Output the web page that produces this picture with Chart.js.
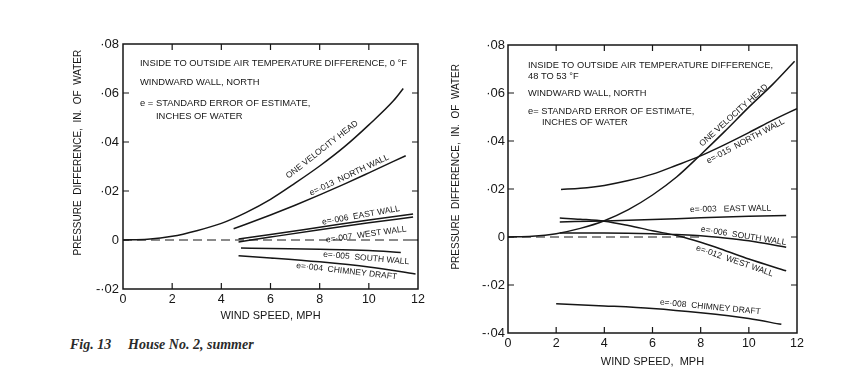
<!DOCTYPE html>
<html>
<head>
<meta charset="utf-8">
<script src="https://cdn.jsdelivr.net/npm/chart.js@4.4.1/dist/chart.umd.min.js"></script>
<style>
  body { margin: 0; background: #fff; width: 842px; height: 369px; position: relative; overflow: hidden; }
  #leftChart { position: absolute; left: 0; top: 0; }
  #rightChart { position: absolute; left: 440px; top: 0; }
  .cap { position: absolute; top: 337px; font: italic bold 14px "Liberation Serif", "DejaVu Serif", serif; color: #2a2a2a; white-space: nowrap; }
</style>
</head>
<body>
<canvas id="leftChart" width="440" height="330"></canvas>
<canvas id="rightChart" width="402" height="369"></canvas>
<div class="cap" style="left:70px">Fig. 13</div>
<div class="cap" style="left:128px">House No. 2, summer</div>

<script>
// ---- left chart: house no. 2, summer, 0 °F difference ----
var zeroSpeedL = [0, 12];
var zeroL = [0, 0];
var headSpeedL = [0, 1, 2, 3, 4, 5, 6, 7, 8, 9, 10, 11, 11.4];
var headL = [0, 0.0003, 0.0015, 0.0038, 0.0068, 0.0112, 0.0166, 0.0232, 0.0302, 0.0380, 0.0470, 0.0568, 0.0618];
var northSpeedL = [4.5, 5, 6, 7, 8, 9, 10, 11.5];
var northL = [0.0046, 0.0064, 0.0102, 0.0142, 0.0184, 0.0228, 0.0274, 0.0344];
var eastSpeedL = [4.7, 6, 8, 10, 11.8];
var eastL = [0.0004, 0.0022, 0.0052, 0.0082, 0.0106];
var westSpeedL = [4.7, 6, 8, 10, 11.8];
var westL = [-0.0008, 0.0012, 0.0042, 0.0070, 0.0094];
var southSpeedL = [4.8, 6, 8, 10, 11.3];
var southL = [-0.0033, -0.0035, -0.0038, -0.0043, -0.0051];
var chimneySpeedL = [4.7, 6, 8, 10, 11.9];
var chimneyL = [-0.0064, -0.0073, -0.0089, -0.0110, -0.0139];

// ---- right chart: 48 to 53 °F difference ----
var zeroSpeedR = [0, 8];
var zeroR = [0, 0];
var headSpeedR = [0, 1, 2, 3, 4, 5, 6, 7, 8, 9, 10, 11, 11.9];
var headR = [0, 0.0003, 0.0014, 0.0036, 0.0068, 0.0114, 0.0175, 0.0250, 0.0343, 0.0440, 0.0541, 0.0637, 0.0732];
var northSpeedR = [2.2, 3, 4, 5, 6, 7, 7.9, 9, 10, 11, 12];
var northR = [0.0198, 0.0203, 0.0215, 0.0235, 0.0262, 0.0299, 0.0334, 0.0385, 0.0435, 0.0487, 0.0535];
var eastSpeedR = [2.15, 4, 6, 8, 10, 11.55];
var eastR = [0.0063, 0.0067, 0.0073, 0.0080, 0.0086, 0.0090];
var westSpeedR = [2.15, 3, 4, 5, 6, 7, 8, 9, 10, 11.55];
var westR = [0.0079, 0.0074, 0.0066, 0.0048, 0.0026, 0.0006, -0.0022, -0.0056, -0.0092, -0.0141];
var southSpeedR = [2.15, 4, 6, 7, 8, 9, 10, 11.55];
var southR = [0.0017, 0.0017, 0.0014, 0.0010, 0.0005, -0.0004, -0.0016, -0.0043];
var chimneySpeedR = [2, 4, 6, 8, 10, 11.35];
var chimneyR = [-0.0278, -0.0287, -0.0298, -0.0316, -0.0340, -0.0364];

var yTicksL = [-0.02, 0.08];
var yTicksR = [-0.04, 0.08];
var xTicks = [0, 12];

var INK = '#161616';
var SANS = '"Liberation Sans", Arial, sans-serif';
var Y_TITLE = 'PRESSURE  DIFFERENCE,  IN.  OF  WATER';

function pts(xs, ys) {
    return xs.map(function (x, i) { return { x: x, y: ys[i] }; });
}

function curve(xs, ys) {
    return {
        data: pts(xs, ys),
        borderColor: INK,
        borderWidth: 1.5,
        pointRadius: 0,
        fill: false,
        cubicInterpolationMode: 'monotone'
    };
}

function dashed(xs, ys) {
    var d = curve(xs, ys);
    d.borderWidth = 1;
    d.borderDash = [9, 5];
    return d;
}

// tick text like ·08 and -·02
function fmt(v) {
    var n = Math.round(Math.abs(v) * 100);
    if (n === 0) return '0';
    return (v < 0 ? '-' : '') + '\u00b7' + (n < 10 ? '0' : '') + n;
}

// leading no-break spaces push the rotated title up the axis
function lift(text, n) {
    return new Array(n + 1).join('\u00a0') + text;
}

// frame with inward ticks, notes and curve labels
var paperPlugin = {
    id: 'paper',
    afterDraw: function (chart, args, opts) {
        var ctx = chart.ctx, a = chart.chartArea;
        var xs = chart.scales.x, ys = chart.scales.y;
        ctx.save();
        ctx.strokeStyle = INK;
        ctx.lineWidth = 1.5;
        ctx.strokeRect(a.left, a.top, a.right - a.left, a.bottom - a.top);
        ctx.lineWidth = 1.2;
        ctx.beginPath();
        xs.ticks.forEach(function (t) {
            var px = xs.getPixelForValue(t.value);
            if (px <= a.left + 1 || px >= a.right - 1) return;
            ctx.moveTo(px, a.bottom); ctx.lineTo(px, a.bottom - 6);
            ctx.moveTo(px, a.top); ctx.lineTo(px, a.top + 6);
        });
        ys.ticks.forEach(function (t) {
            var py = ys.getPixelForValue(t.value);
            if (py <= a.top + 1 || py >= a.bottom - 1) return;
            ctx.moveTo(a.left, py); ctx.lineTo(a.left + 6, py);
            ctx.moveTo(a.right, py); ctx.lineTo(a.right - 6, py);
        });
        ctx.stroke();

        ctx.fillStyle = INK;
        ctx.textBaseline = 'middle';
        ctx.textAlign = 'left';
        ctx.font = opts.noteSize + 'px ' + SANS;
        (opts.notes || []).forEach(function (n) {
            ctx.fillText(n.text, a.left + n.dx, a.top + n.dy);
        });

        ctx.font = '8.5px ' + SANS;
        ctx.textAlign = 'center';
        (opts.labels || []).forEach(function (l) {
            ctx.save();
            ctx.translate(xs.getPixelForValue(l.x), ys.getPixelForValue(l.y));
            ctx.rotate(l.angle * Math.PI / 180);
            ctx.fillText(l.text, 0, 0);
            ctx.restore();
        });
        ctx.restore();
    }
};

function makeChart(id, datasets, yRange, box, notes, labels) {
    return new Chart(document.getElementById(id).getContext('2d'), {
        type: 'line',
        data: { datasets: datasets },
        plugins: [paperPlugin],
        options: {
            responsive: false,
            animation: false,
            layout: { padding: box.padding },
            plugins: {
                legend: { display: false },
                tooltip: { enabled: false },
                paper: { notes: notes, labels: labels, noteSize: box.noteSize }
            },
            scales: {
                x: {
                    type: 'linear',
                    min: xTicks[0],
                    max: xTicks[1],
                    grid: { display: false, drawTicks: false },
                    border: { display: false },
                    ticks: {
                        stepSize: 2, padding: 3, color: INK, maxRotation: 0,
                        font: { family: SANS, size: 12.5 }
                    },
                    title: {
                        display: true, text: box.xTitle, color: INK,
                        font: { family: SANS, size: 11 },
                        padding: { top: 0, bottom: box.xTitleGap }
                    },
                    afterFit: function (s) { s.height = box.xHeight; }
                },
                y: {
                    min: yRange[0],
                    max: yRange[1],
                    grid: { display: false, drawTicks: false },
                    border: { display: false },
                    ticks: {
                        stepSize: 0.02, padding: box.yLabelGap, color: INK,
                        font: { family: SANS, size: 13 },
                        callback: fmt
                    },
                    title: {
                        display: true, text: box.yTitle, color: INK,
                        font: { family: SANS, size: 10 },
                        padding: { top: 0, bottom: 0 }
                    },
                    afterFit: function (s) { s.width = box.yWidth; }
                }
            }
        }
    });
}

makeChart('leftChart', [
    dashed(zeroSpeedL, zeroL),
    curve(headSpeedL, headL),
    curve(northSpeedL, northL),
    curve(eastSpeedL, eastL),
    curve(westSpeedL, westL),
    curve(southSpeedL, southL),
    curve(chimneySpeedL, chimneyL)
], yTicksL, {
    padding: { left: 72, top: 44, right: 22, bottom: 0 },
    yWidth: 51, yLabelGap: 4, xHeight: 41, xTitleGap: 7,
    xTitle: 'WIND SPEED, MPH', yTitle: lift(Y_TITLE, 10), noteSize: 9.4
}, [
    { text: 'INSIDE TO OUTSIDE AIR TEMPERATURE DIFFERENCE, 0 \u00b0F', dx: 17, dy: 19 },
    { text: 'WINDWARD WALL, NORTH', dx: 17, dy: 38 },
    { text: 'e = STANDARD ERROR OF ESTIMATE,', dx: 17, dy: 59 },
    { text: 'INCHES OF WATER', dx: 33, dy: 72 }
], [
    { text: 'ONE VELOCITY HEAD', x: 8.1, y: 0.0369, angle: -38 },
    { text: 'e=\u00b7013  NORTH WALL', x: 9.2, y: 0.0264, angle: -25 },
    { text: 'e=\u00b7006  EAST WALL', x: 9.68, y: 0.0100, angle: -10 },
    { text: 'e=\u00b7007  WEST WALL', x: 9.89, y: 0.0022, angle: -8 },
    { text: 'e=\u00b7005  SOUTH WALL', x: 9.89, y: -0.0074, angle: 5 },
    { text: 'e=\u00b7004  CHIMNEY DRAFT', x: 9.1, y: -0.0128, angle: 6.5 }
]);

makeChart('rightChart', [
    dashed(zeroSpeedR, zeroR),
    curve(headSpeedR, headR),
    curve(northSpeedR, northR),
    curve(eastSpeedR, eastR),
    curve(westSpeedR, westR),
    curve(southSpeedR, southR),
    curve(chimneySpeedR, chimneyR)
], yTicksR, {
    padding: { left: 10, top: 45, right: 45, bottom: 0 },
    yWidth: 58, yLabelGap: 3, xHeight: 36, xTitleGap: 0,
    xTitle: 'WIND SPEED,  MPH', yTitle: lift(Y_TITLE, 16), noteSize: 9.3
}, [
    { text: 'INSIDE TO OUTSIDE AIR TEMPERATURE DIFFERENCE,', dx: 20, dy: 20 },
    { text: '48 TO 53 \u00b0F', dx: 20, dy: 31 },
    { text: 'WINDWARD WALL, NORTH', dx: 20, dy: 48 },
    { text: 'e= STANDARD ERROR OF ESTIMATE,', dx: 20, dy: 66 },
    { text: 'INCHES OF WATER', dx: 34, dy: 77 }
], [
    { text: 'ONE VELOCITY HEAD', x: 9.37, y: 0.0507, angle: -42 },
    { text: 'e=\u00b7015  NORTH WALL', x: 9.86, y: 0.0399, angle: -28 },
    { text: 'e=\u00b7003   EAST WALL', x: 9.24, y: 0.0117, angle: -1 },
    { text: 'e=\u00b7006  SOUTH WALL', x: 9.78, y: 0.0004, angle: 9 },
    { text: 'e=\u00b7012  WEST WALL', x: 9.41, y: -0.0100, angle: 19 },
    { text: 'e=\u00b7008  CHIMNEY DRAFT', x: 8.4, y: -0.0292, angle: 5.5 }
]);
</script>
</body>
</html>
